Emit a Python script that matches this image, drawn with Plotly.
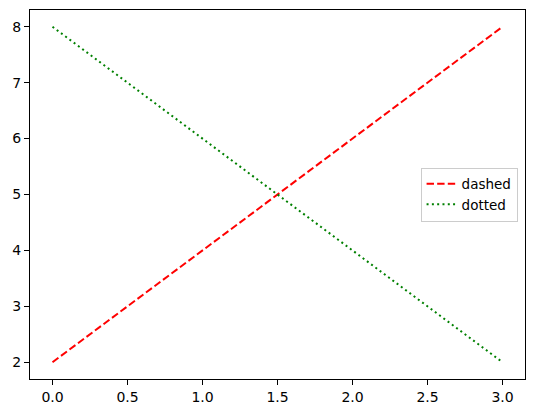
import plotly.graph_objects as go

x_vals = [0, 1, 2, 3]
dashed_y = [2, 4, 6, 8]
dotted_y = [8, 6, 4, 2]
x_ticks = [0.0, 0.5, 1.0, 1.5, 2.0, 2.5, 3.0]
x_tick_labels = ["0.0", "0.5", "1.0", "1.5", "2.0", "2.5", "3.0"]
y_ticks = [2, 3, 4, 5, 6, 7, 8]

fig = go.Figure()
fig.add_trace(go.Scatter(x=x_vals, y=dashed_y, mode="lines", name="dashed",
                         line=dict(color="#ff0000", width=2, dash="7.4px,3.2px")))
fig.add_trace(go.Scatter(x=x_vals, y=dotted_y, mode="lines", name="dotted",
                         line=dict(color="#008000", width=2, dash="2px,3.3px")))

font = dict(family="DejaVu Sans", size=14, color="black")
axis_common = dict(showgrid=False, zeroline=False, showline=True, linecolor="black",
                   linewidth=1, mirror=True, ticks="outside", ticklen=5, tickwidth=1,
                   tickcolor="black", tickfont=font, automargin=False)

fig.update_layout(
    width=534, height=413,
    margin=dict(l=29.5, r=8.7, t=10, b=34, autoexpand=False),
    paper_bgcolor="white", plot_bgcolor="white",
    font=font,
    xaxis=dict(range=[-0.15, 3.15], tickvals=x_ticks, ticktext=x_tick_labels, **axis_common),
    yaxis=dict(range=[1.7, 8.3], tickvals=y_ticks, **axis_common),
    legend=dict(x=0.985, y=0.5, xanchor="right", yanchor="middle",
                bgcolor="white", bordercolor="#cccccc", borderwidth=1,
                font=dict(family="DejaVu Sans", size=13.5, color="black"),
                itemwidth=30, tracegroupgap=0),
    showlegend=True,
)

fig.write_html("out.html", config={"displayModeBar": False},
               post_script="document.body.style.margin='0';document.body.style.overflow='hidden';")
